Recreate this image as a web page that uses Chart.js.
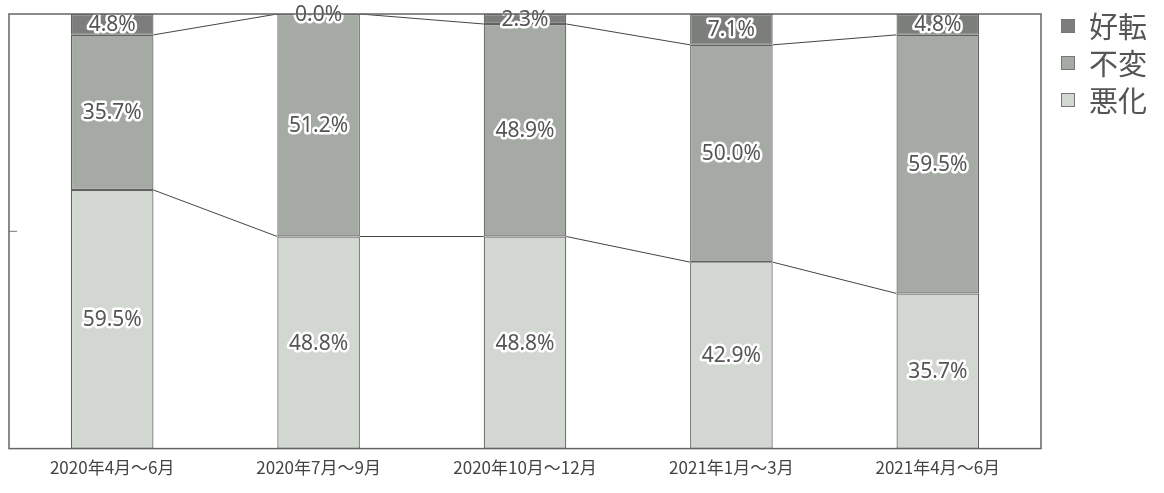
<!DOCTYPE html>
<html>
<head>
<meta charset="utf-8">
<script src="https://cdn.jsdelivr.net/npm/chart.js@4/dist/chart.umd.min.js"></script>
<style>
  body { margin: 0; background: #fff; }
  #wrap { width: 1164px; height: 493px; }
</style>
</head>
<body>
<div id="wrap"><canvas id="c" width="1164" height="493"></canvas></div>
<script>
'use strict'

// カテゴリ（四半期）
const periods = ['2020年4月～6月', '2020年7月～9月', '2020年10月～12月', '2021年1月～3月', '2021年4月～6月'];
// 各系列の割合（%）
const worse = [59.5, 48.8, 48.8, 42.9, 35.7];     // 悪化
const same = [35.7, 51.2, 48.9, 50.0, 59.5];      // 不変
const better = [4.8, 0.0, 2.3, 7.1, 4.8];         // 好転
const yTicks = [50];

const FONT_JP = '"Noto Sans CJK JP", "Noto Sans", sans-serif';

// 枠線・目盛り・区分線
const framePlugin = {
  id: 'frame',
  beforeDatasetsDraw(chart) {
    const ctx = chart.ctx;
    ctx.save();
    // 区分線（前の棒の右端→次の棒の左端）
    ctx.strokeStyle = '#444';
    ctx.lineWidth = 1;
    const n = chart.data.labels.length;
    for (let d = 0; d < 2; d++) {
      const meta = chart.getDatasetMeta(d);
      for (let i = 0; i < n - 1; i++) {
        const b1 = meta.data[i], b2 = meta.data[i + 1];
        ctx.beginPath();
        ctx.moveTo(b1.x + b1.width / 2, b1.y);
        ctx.lineTo(b2.x - b2.width / 2, b2.y);
        ctx.stroke();
      }
    }
    ctx.restore();
  },
  afterDraw(chart) {
    const a = chart.chartArea;
    const ctx = chart.ctx;
    ctx.save();
    ctx.strokeStyle = '#666';
    ctx.lineWidth = 1.5;
    ctx.strokeRect(a.left, a.top, a.right - a.left, a.bottom - a.top);
    // 50%の目盛り
    const ys = chart.scales.y;
    ctx.lineWidth = 1;
    ctx.strokeStyle = '#777';
    yTicks.forEach(v => {
      const y = ys.getPixelForValue(v);
      ctx.beginPath();
      ctx.moveTo(a.left - 1, y);
      ctx.lineTo(a.left + 8, y);
      ctx.stroke();
    });
    ctx.restore();
  }
};

// 値ラベル（白縁取り）
const labelPlugin = {
  id: 'valueLabels',
  afterDatasetsDraw(chart) {
    const ctx = chart.ctx;
    ctx.save();
    ctx.font = '21px "Noto Sans", sans-serif';
    ctx.textAlign = 'center';
    ctx.textBaseline = 'middle';
    ctx.lineJoin = 'round';
    chart.data.datasets.forEach((ds, d) => {
      const meta = chart.getDatasetMeta(d);
      meta.data.forEach((el, i) => {
        const txt = ds.data[i].toFixed(1) + '%';
        const y = (el.y + el.base) / 2 + 1;
        ctx.lineWidth = 5;
        ctx.strokeStyle = '#fff';
        ctx.strokeText(txt, el.x, y);
        ctx.fillStyle = '#555';
        ctx.fillText(txt, el.x, y);
      });
    });
    ctx.restore();
  }
};

// 凡例（右上）
const legendPlugin = {
  id: 'sideLegend',
  afterDraw(chart) {
    const ctx = chart.ctx;
    const items = Chart.defaults.plugins.legend.labels.generateLabels(chart).reverse();
    ctx.save();
    ctx.font = '29px ' + FONT_JP;
    ctx.textBaseline = 'middle';
    const x0 = chart.chartArea.right + 20;
    items.forEach((it, k) => {
      const cy = 26 + k * 37;
      ctx.fillStyle = it.fillStyle;
      ctx.fillRect(x0, cy - 7, 14, 14);
      ctx.strokeStyle = '#777';
      ctx.lineWidth = 1;
      ctx.strokeRect(x0 + 0.5, cy - 6.5, 13, 13);
      ctx.fillStyle = '#555';
      ctx.fillText(it.text, x0 + 28, cy + 1);
    });
    ctx.restore();
  }
};

const ctx = document.getElementById('c').getContext('2d');
const chart = new Chart(ctx, {
  type: 'bar',
  data: {
    labels: periods,
    datasets: [
      { label: '悪化', data: worse, backgroundColor: '#d3d7d1' },
      { label: '不変', data: same, backgroundColor: '#a5aaa4' },
      { label: '好転', data: better, backgroundColor: '#7b7e7a' }
    ]
  },
  options: {
    responsive: false,
    animation: false,
    layout: { padding: { left: 9, top: 14, right: 123, bottom: 6 } },
    datasets: {
      bar: {
        categoryPercentage: 1,
        barPercentage: 0.4,
        borderColor: '#5f625e',
        borderWidth: 1.2,
        borderSkipped: false
      }
    },
    scales: {
      x: {
        stacked: true,
        grid: { display: false, drawTicks: false },
        border: { display: false },
        ticks: { color: '#444', padding: 9, font: { family: FONT_JP, size: 17 } }
      },
      y: {
        stacked: true,
        display: false,
        min: 0,
        max: 100
      }
    },
    plugins: {
      legend: { display: false },
      tooltip: { enabled: false }
    }
  },
  plugins: [framePlugin, labelPlugin, legendPlugin]
});
</script>
</body>
</html>
